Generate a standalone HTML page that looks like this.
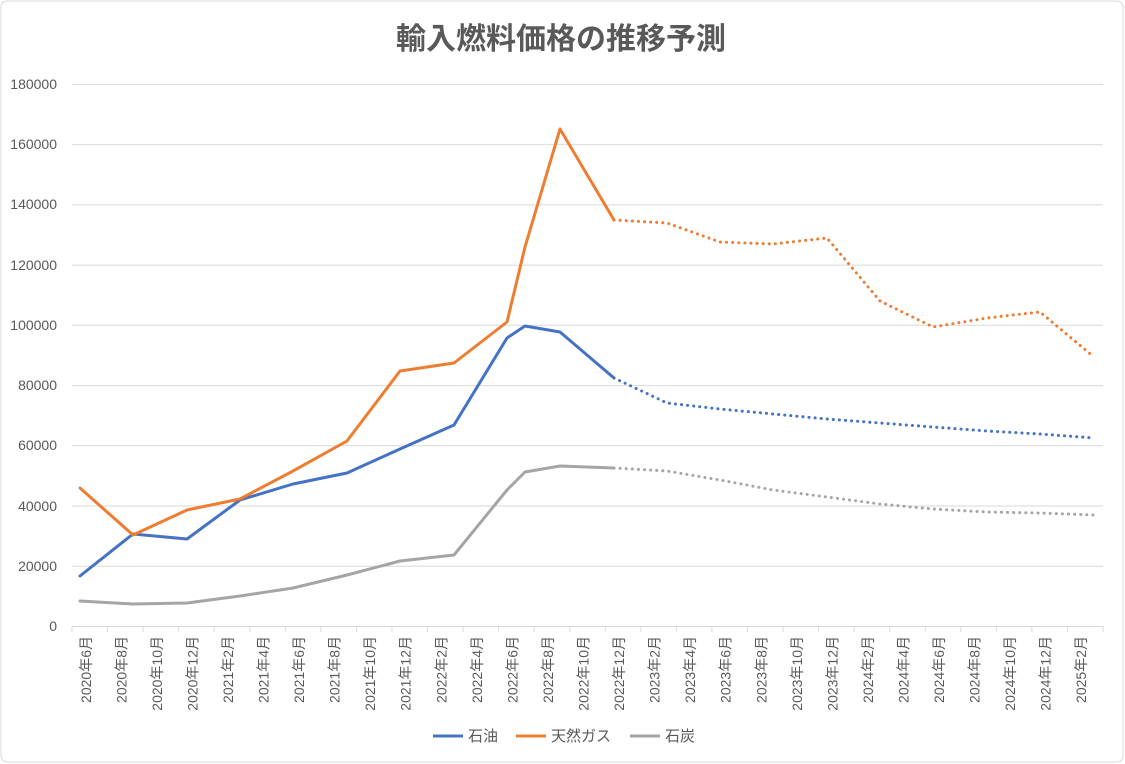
<!DOCTYPE html>
<html><head><meta charset="utf-8"><style>
html,body{margin:0;padding:0;background:#fff;}
svg{display:block;font-family:"Liberation Sans","Noto Sans CJK JP",sans-serif;}
</style></head><body>
<svg width="1125" height="764" viewBox="0 0 1125 764">
<rect x="1" y="1" width="1122" height="761" rx="6" fill="#fff" stroke="#d9d9d9"/>
<text x="561" y="49" text-anchor="middle" font-size="30" font-weight="bold" fill="#595959">輸入燃料価格の推移予測</text>
<g stroke="#d9d9d9" stroke-width="1">
<line x1="72" y1="84.5" x2="1103" y2="84.5"/><line x1="72" y1="144.7" x2="1103" y2="144.7"/>
<line x1="72" y1="204.9" x2="1103" y2="204.9"/><line x1="72" y1="265.1" x2="1103" y2="265.1"/>
<line x1="72" y1="325.3" x2="1103" y2="325.3"/><line x1="72" y1="385.6" x2="1103" y2="385.6"/>
<line x1="72" y1="445.8" x2="1103" y2="445.8"/><line x1="72" y1="506" x2="1103" y2="506"/>
<line x1="72" y1="566.2" x2="1103" y2="566.2"/><line x1="72" y1="626.5" x2="1103" y2="626.5"/>
</g>
<g font-size="14" fill="#595959" text-anchor="end">
<text x="57" y="89">180000</text><text x="57" y="149">160000</text><text x="57" y="209">140000</text>
<text x="57" y="270">120000</text><text x="57" y="330">100000</text><text x="57" y="390">80000</text>
<text x="57" y="450">60000</text><text x="57" y="511">40000</text><text x="57" y="571">20000</text>
<text x="57" y="631">0</text>
</g>
<g id="ticks" stroke="#d9d9d9"></g>
<g id="xl" font-size="14" fill="#595959"></g>
<g fill="none" stroke-width="3" stroke-linejoin="round" stroke-linecap="round">
<polyline stroke="#4472c4" points="80,576 133,534 187,539 240,500 293,484 347,473 400,449 454,425 507,338 525,326 560,332 614,378"/>
<polyline stroke="#4472c4" stroke-dasharray="0.1 6" points="614,378 667,403 720,409 773,414 827,419 880,423 933,427 987,431 1040,434 1094,438"/>
<polyline stroke="#ed7d31" points="80,488 133,535 187,510 240,499 293,471 347,441 400,371 454,363 507,322 525,247 560,129 614,220"/>
<polyline stroke="#ed7d31" stroke-dasharray="0.1 6" points="614,220 667,223 720,242 773,244 827,238 880,301 933,327 987,318 1040,312 1094,357"/>
<polyline stroke="#a5a5a5" points="80,601 133,604 187,603 240,596 293,588 347,575 400,561 454,555 507,490 525,472 560,466 614,468"/>
<polyline stroke="#a5a5a5" stroke-dasharray="0.1 6" points="614,468 667,471 720,480 773,490 827,497 880,504 933,509 987,512 1040,513 1094,515"/>
</g>
<g font-size="15" fill="#595959">
<line x1="433" y1="736" x2="463" y2="736" stroke="#4472c4" stroke-width="3"/><text x="468" y="741">石油</text>
<line x1="516" y1="736" x2="546" y2="736" stroke="#ed7d31" stroke-width="3"/><text x="551" y="741">天然ガス</text>
<line x1="630" y1="736" x2="660" y2="736" stroke="#a5a5a5" stroke-width="3"/><text x="665" y="741">石炭</text>
</g>
<script>
var t=document.getElementById('ticks'),xl=document.getElementById('xl'),ns='http://www.w3.org/2000/svg';
var w=1031/29;
for(var i=0;i<=29;i++){var l=document.createElementNS(ns,'line');var x=72+w*i;l.setAttribute('x1',x);l.setAttribute('x2',x);l.setAttribute('y1',626);l.setAttribute('y2',632);t.appendChild(l);}
for(var i=0;i<29;i++){var m=5+i*2;var y=2020+Math.floor(m/12);var mo=m%12+1;var x=72+w*(i+0.5)+1;
var tx=document.createElementNS(ns,'text');tx.setAttribute('transform','translate('+x+',636) rotate(-90)');tx.setAttribute('text-anchor','end');tx.textContent=y+'年'+mo+'月';xl.appendChild(tx);}
</script>
</svg>
</body></html>
